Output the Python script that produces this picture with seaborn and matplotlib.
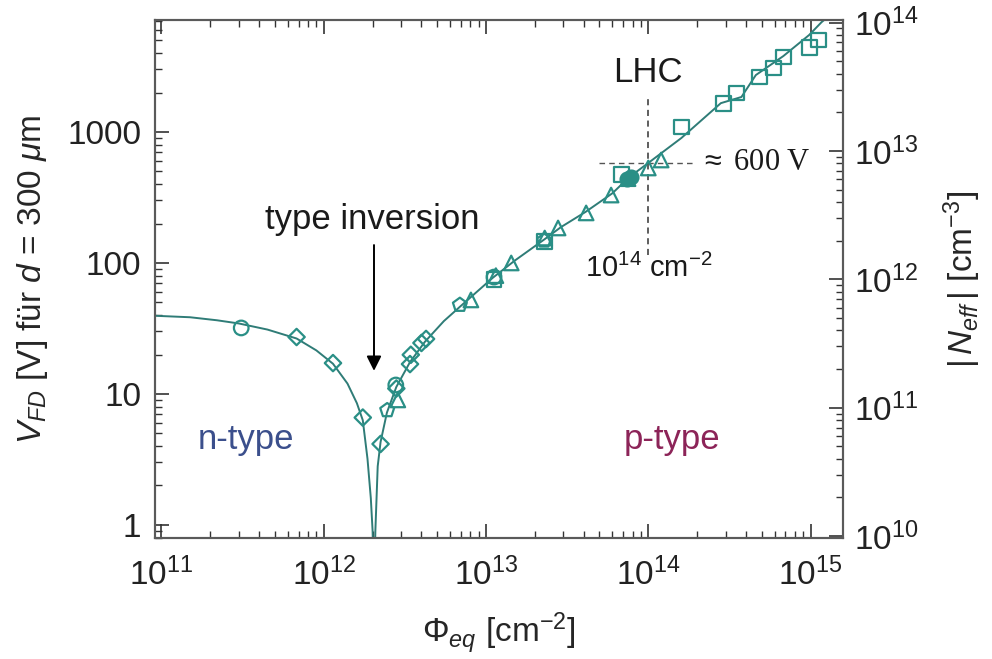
import numpy as np
import pandas as pd
import matplotlib
matplotlib.use("Agg")
import matplotlib.pyplot as plt
import matplotlib.ticker as mticker
import seaborn as sns

# ---- data ----
curve_phi = [9.2e10, 1.5e11, 2.2e11, 3.0e11, 4.5e11, 6.8e11, 9.0e11, 1.14e12, 1.4e12,
             1.6e12, 1.74e12, 1.86e12, 1.95e12, 2.0e12, 2.04e12, 2.08e12, 2.15e12,
             2.24e12, 2.45e12, 2.8e12, 3.4e12, 4.2e12, 5.5e12, 7.0e12, 1.1e13, 1.5e13,
             2.3e13, 2.9e13, 4.1e13, 6.0e13, 7.6e13, 1.0e14, 1.6e14, 2.8e14, 3.75e14,
             4.6e14, 6.8e14, 9.8e14, 1.17e15, 1.6e15]
curve_v = [39.5, 38.5, 36.5, 34.5, 31.0, 26.5, 21.5, 17.0, 12.0,
           8.5, 6.3, 3.2, 1.6, 0.9, 0.3, 0.9, 2.8,
           4.3, 7.2, 11.3, 17.5, 25.0, 36.0, 47.0, 77.0, 104.0,
           152.0, 188.0, 245.0, 340.0, 450.0, 580.0, 900.0, 1660.0, 1850.0,
           2720.0, 3800.0, 5500.0, 6900.0, 9500.0]

circ_phi = [3.1e11, 2.78e12, 1.12e13]
circ_v = [31.9, 11.7, 78.0]
circf_phi = [7.4e13, 7.8e13]
circf_v = [440.0, 455.0]
diam_phi = [6.8e11, 1.14e12, 1.74e12, 2.24e12, 2.8e12, 3.4e12, 3.44e12, 4.0e12, 4.27e12]
diam_v = [27.2, 17.2, 6.6, 4.15, 11.0, 16.9, 19.9, 24.5, 26.3]
pent_phi = [2.46e12, 6.9e12, 2.28e13]
pent_v = [7.5, 47.8, 148.0]
tri_phi = [2.86e12, 8.07e12, 1.15e13, 1.43e13, 2.3e13, 2.78e13, 4.14e13, 5.9e13,
           7.5e13, 1.0e14, 1.2e14]
tri_v = [9.0, 52.2, 80.0, 100.0, 155.0, 185.0, 241.0, 330.0, 440.0, 531.0, 611.0]
sq_phi = [1.12e13, 2.28e13, 6.8e13, 1.6e14, 2.9e14, 3.5e14, 4.84e14, 5.9e14, 6.8e14,
          9.8e14, 1.12e15]
sq_v = [75.0, 145.0, 470.0, 1092.0, 1660.0, 1986.0, 2630.0, 3080.0, 3740.0, 4450.0, 5040.0]

yticks_left = [1, 10, 100, 1000]
yticks_right = [1e10, 1e11, 1e12, 1e13, 1e14]
xticks = [1e11, 1e12, 1e13, 1e14, 1e15]

# ---- style ----
sns.set_theme(style="ticks")
plt.rcParams['font.family'] = ['Liberation Sans', 'DejaVu Sans']
plt.rcParams['mathtext.fontset'] = 'custom'
plt.rcParams['mathtext.rm'] = 'Liberation Sans'
plt.rcParams['mathtext.it'] = 'Liberation Sans:italic'
plt.rcParams['mathtext.bf'] = 'Liberation Sans:bold'

teal = "#2a8f86"
line_c = "#2f7c77"
spine_c = "#5a5a5a"
FS = 24

fig = plt.figure(figsize=(9.92, 6.59), dpi=100)
ax = fig.add_axes([155/992, 1-538/659, (843-155)/992, (538-20)/659])

ax.set_xscale("log")
ax.set_yscale("log")
ax.set_xlim(10**10.96, 10**15.2)
ax.set_ylim(10**-0.1, 10**3.855)

dfc = pd.DataFrame({"phi": curve_phi, "v": curve_v})
sns.lineplot(data=dfc, x="phi", y="v", ax=ax, sort=False, estimator=None,
             color=line_c, linewidth=1.4)

groups = [(circ_phi, circ_v, "o", "none", 110), (diam_phi, diam_v, "D", "none", 70),
          (pent_phi, pent_v, "p", "none", 110), (tri_phi, tri_v, "^", "none", 110),
          (sq_phi, sq_v, "s", "none", 115), (circf_phi, circf_v, "o", teal, 100)]
for px, py, mk, fc, s in groups:
    sns.scatterplot(x=px, y=py, ax=ax, marker=mk, s=s, facecolor=fc,
                    edgecolor=teal, linewidth=1.6, zorder=3)

ax.set_xlabel(r"$\Phi_{eq}$ [cm$^{-2}$]", fontsize=FS, labelpad=14)
ax.set_ylabel(r"$V_{FD}$ [V] für $d$ = 300 $\mu$m", fontsize=FS, labelpad=12)

ax.xaxis.set_major_locator(mticker.FixedLocator(xticks))
ax.xaxis.set_major_formatter(mticker.LogFormatterSciNotation())
ax.xaxis.set_minor_locator(mticker.LogLocator(base=10, subs=np.arange(2, 10)))
ax.xaxis.set_minor_formatter(mticker.NullFormatter())
ax.yaxis.set_major_locator(mticker.FixedLocator(yticks_left))
ax.yaxis.set_major_formatter(mticker.FixedFormatter([str(t) for t in yticks_left]))
ax.yaxis.set_minor_locator(mticker.LogLocator(base=10, subs=np.arange(2, 10)))
ax.yaxis.set_minor_formatter(mticker.NullFormatter())

ax.tick_params(which="both", direction="in", top=True, right=False, colors="#333333",
               labelcolor="#222222", labelsize=FS)
ax.tick_params(which="major", length=10, width=1.2, pad=10)
ax.tick_params(axis="x", which="major", pad=14)
ax.tick_params(which="minor", length=5, width=1.0)
for sp in ax.spines.values():
    sp.set_color(spine_c)
    sp.set_linewidth(1.5)
    sp.set_visible(True)

ax2 = ax.twinx()
ax2.set_yscale("log")
ax2.set_ylim(10**9.985, 10**14.02)
ax2.yaxis.set_major_locator(mticker.FixedLocator(yticks_right))
ax2.yaxis.set_major_formatter(mticker.LogFormatterSciNotation())
ax2.yaxis.set_minor_locator(mticker.LogLocator(base=10, subs=np.arange(2, 10)))
ax2.yaxis.set_minor_formatter(mticker.NullFormatter())
ax2.tick_params(which="both", direction="in", colors="#333333", labelcolor="#222222",
                labelsize=FS)
ax2.tick_params(which="major", length=10, width=1.2, pad=8)
ax2.tick_params(which="minor", length=5, width=1.0)
ax2.set_ylabel(r"$|\,N_{eff}\,|$ [cm$^{-3}$]", fontsize=FS, labelpad=16)
for sp in ax2.spines.values():
    sp.set_color(spine_c)
    sp.set_linewidth(1.5)

# ---- annotations ----
ax.text(2.0e12, 213, "type inversion", fontsize=25, ha="center", va="center", color="#1a1a1a")
ax.annotate("", xy=(2.04e12, 15.0), xytext=(2.04e12, 137),
            arrowprops=dict(arrowstyle="-|>", color="black", lw=1.4,
                            mutation_scale=22, shrinkA=0, shrinkB=0))
ax.text(3.3e11, 4.46, "n-type", fontsize=25, ha="center", va="center", color="#3b4f8c")
ax.text(1.4e14, 4.46, "p-type", fontsize=25, ha="center", va="center", color="#8c2458")
ax.text(1.0e14, 2870, "LHC", fontsize=25, ha="center", va="center", color="#1a1a1a")
ax.plot([1e14, 1e14], [115, 1900], ls=(0, (4, 3)), color="#333333", lw=1.1)
ax.plot([5.0e13, 1.9e14], [580, 580], ls=(0, (4, 3)), color="#555555", lw=1.0)
ax.text(2.05e14, 580, r"$\approx$ 600 V", fontsize=22, ha="left", va="center",
        family=["Liberation Serif", "DejaVu Serif"], color="#1a1a1a")
ax.text(1.0e14, 91.6, r"10$^{14}$ cm$^{-2}$", fontsize=21, ha="center", va="center",
        color="#1a1a1a")

fig.savefig("out.png", dpi=100)
